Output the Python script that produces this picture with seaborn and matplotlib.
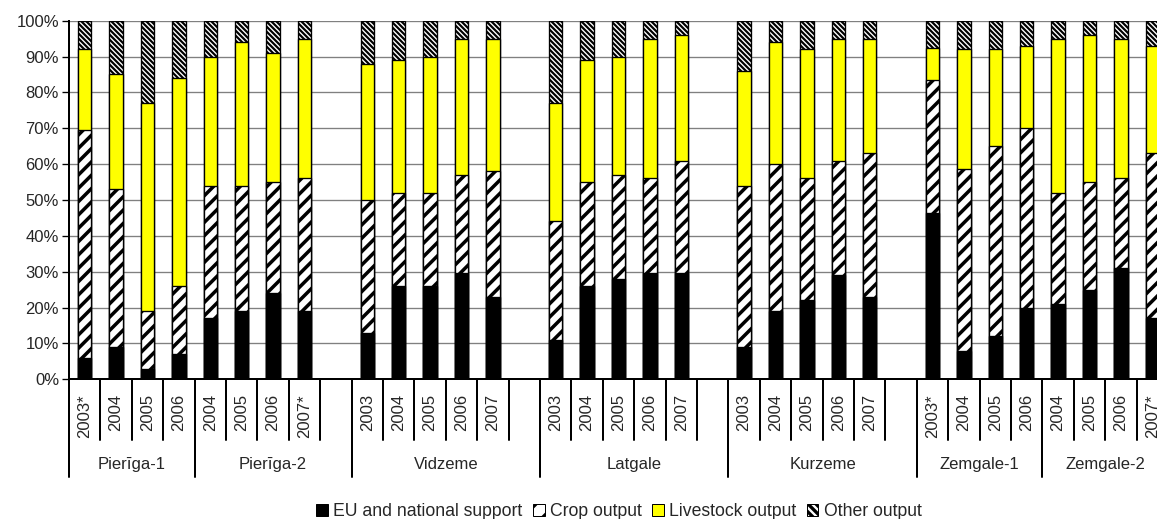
import matplotlib.pyplot as plt
import seaborn as sns
import numpy as np
from matplotlib.patches import Patch

# regions and the years shown under each
regions = ['Pierīga-1', 'Pierīga-2', 'Vidzeme', 'Latgale', 'Kurzeme', 'Zemgale-1', 'Zemgale-2']
region_years = [
    ['2003*', '2004', '2005', '2006'],
    ['2004', '2005', '2006', '2007*'],
    ['2003', '2004', '2005', '2006', '2007'],
    ['2003', '2004', '2005', '2006', '2007'],
    ['2003', '2004', '2005', '2006', '2007'],
    ['2003*', '2004', '2005', '2006'],
    ['2004', '2005', '2006', '2007*'],
]

# shares, %
eu = [6, 9, 3, 7, 17, 19, 24, 19, 13, 26, 26, 29.5, 23, 11, 26, 28, 29.5, 29.5,
      9, 19, 22, 29, 23, 46.5, 8, 12, 20, 21, 25, 31, 17]
crop = [63.5, 44, 16, 19, 37, 35, 31, 37, 37, 26, 26, 27.5, 35, 33, 29, 29, 26.5, 31.5,
        45, 41, 34, 32, 40, 37, 50.5, 53, 50, 31, 30, 25, 46]
livestock = [22.5, 32, 58, 58, 36, 40, 36, 39, 38, 37, 38, 38, 37, 33, 34, 33, 39, 35,
             32, 34, 36, 34, 32, 9, 33.5, 27, 23, 43, 41, 39, 30]
other = [8, 15, 23, 16, 10, 6, 9, 5, 12, 11, 10, 5, 5, 23, 11, 10, 5, 4,
         14, 6, 8, 5, 5, 7.5, 8, 8, 7, 5, 4, 5, 7]

series_names = ['EU and national support', 'Crop output', 'Livestock output', 'Other output']

# slots per region (some regions are followed by an empty slot)
group_slots = [4, 5, 6, 6, 6, 4, 4]

sns.set_style('white')
plt.rcParams['font.family'] = ['Liberation Sans', 'DejaVu Sans']

DPI = 120
fig = plt.figure(figsize=(1157 / DPI, 519 / DPI), dpi=DPI)
ax = fig.add_axes([69 / 1157, 0.2692, 1099 / 1157, 0.6910])

# bar positions
pos, labels, bounds = [], [], [0]
start = 0
for n, yrs in zip(group_slots, region_years):
    for i, y in enumerate(yrs):
        pos.append(start + i)
        labels.append(y)
    start += n
    bounds.append(start)
pos = np.array(pos, dtype=float)

eu_a = np.array(eu)
c2 = eu_a + np.array(crop)
c3 = c2 + np.array(livestock)
c4 = c3 + np.array(other)

CROP_HATCH = '///'
OTHER_HATCH = '\\' * 8

layers = [
    (c4, 'white', OTHER_HATCH, 1.3),
    (c3, '#ffff00', None, 1.0),
    (c2, 'white', CROP_HATCH, 2.1),
    (eu_a, 'black', None, 1.0),
]
for vals, col, hatch, hlw in layers:
    n0 = len(ax.patches)
    plt.rcParams['hatch.linewidth'] = hlw
    sns.barplot(x=pos, y=vals, native_scale=True, width=0.43, color=col,
                saturation=1, edgecolor='black', linewidth=0.8, hatch=hatch,
                errorbar=None, ax=ax)
    for p in ax.patches[n0:]:
        if hasattr(p, 'set_hatch_linewidth'):
            p.set_hatch_linewidth(hlw)

ax.set_xlim(-0.5, bounds[-1] - 0.5)
ax.set_ylim(0, 100)
ax.set_yticks(np.arange(0, 101, 10))
ax.set_yticklabels([f'{v}%' for v in range(0, 101, 10)], fontsize=10)
ax.yaxis.grid(True, color='#808080', linewidth=0.8)
ax.set_axisbelow(True)
ax.tick_params(axis='y', left=True, length=4.2, width=0.8, pad=1.8, color='black')

ax.set_xticks(pos)
ax.set_xticklabels(labels, rotation=90, fontsize=10, va='top')
ax.tick_params(axis='x', length=0, pad=9)
ax.set_xlabel('')
ax.set_ylabel('')

for s in ['top', 'right']:
    ax.spines[s].set_visible(False)
for s in ['left', 'bottom']:
    ax.spines[s].set_color('black')
    ax.spines[s].set_linewidth(1.2)

trans = ax.get_xaxis_transform()
for b in range(bounds[-1] + 1):
    ybot = -0.272 if b in bounds else -0.169
    ax.plot([b - 0.5, b - 0.5], [0, ybot], color='black', lw=1.2,
            transform=trans, clip_on=False)
for name, a, b in zip(regions, bounds[:-1], bounds[1:]):
    ax.text((a + b) / 2 - 0.5, -0.239, name, transform=trans, ha='center',
            va='center', fontsize=10)

handles = [
    Patch(facecolor='black', edgecolor='black', linewidth=0.6),
    Patch(facecolor='white', edgecolor='black', hatch='//', linewidth=0.6),
    Patch(facecolor='#ffff00', edgecolor='black', linewidth=0.6),
    Patch(facecolor='white', edgecolor='black', hatch='\\' * 5, linewidth=0.6),
]
plt.rcParams['hatch.linewidth'] = 2.0
fig.legend(handles, series_names, loc='center', bbox_to_anchor=(0.535, 0.014),
           ncol=4, frameon=False, fontsize=10.6, handlelength=0.65, handleheight=0.65,
           handletextpad=0.3, columnspacing=0.6, borderpad=0)

fig.savefig('out.png', dpi=DPI)
